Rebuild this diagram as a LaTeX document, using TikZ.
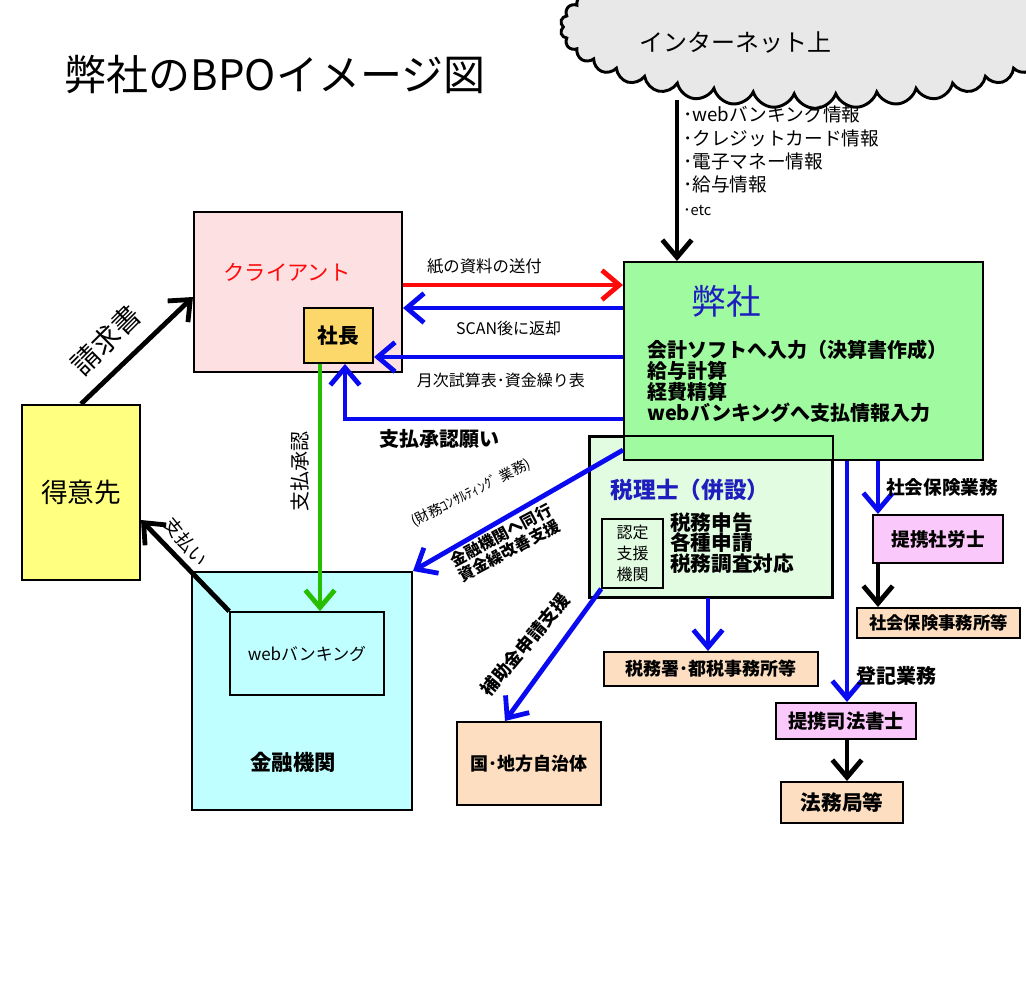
\documentclass[tikz,border=0pt]{standalone}
\usepackage{fontspec}
\setmainfont{Noto Sans CJK JP}
\usepackage{tikz}
\usetikzlibrary{arrows.meta,positioning,shapes.symbols}
\definecolor{clientpink}{RGB}{253,224,226}
\definecolor{bossgold}{RGB}{252,216,106}
\definecolor{firmgreen}{RGB}{160,250,160}
\definecolor{taxgreen}{RGB}{226,252,226}
\definecolor{custyellow}{RGB}{255,255,128}
\definecolor{bankcyan}{RGB}{192,255,255}
\definecolor{officepeach}{RGB}{253,222,192}
\definecolor{partnerpink}{RGB}{250,200,250}
\definecolor{flowblue}{RGB}{10,10,240}
\definecolor{flowred}{RGB}{255,10,10}
\definecolor{flowgreen}{RGB}{40,190,0}
\definecolor{titleblue}{RGB}{30,30,190}
\definecolor{cloudgray}{RGB}{232,232,232}

\tikzset{
  box/.style={draw=black, line width=1.5pt, inner sep=0pt},
  flow/.style={line width=3.6pt, -{Straight Barb[length=13pt,width=22pt]}},
  bluef/.style={flow, draw=flowblue},
  blackf/.style={flow, draw=black},
}

\begin{document}
\begin{tikzpicture}[x=0.75pt,y=-0.75pt]
  \useasboundingbox (0,0) rectangle (1026,985);
  \clip (0,0) rectangle (1026,985);
  \fill[white] (0,0) rectangle (1026,985);

  % title
  \node[font=\fontsize{31.5}{31.5}\selectfont] (title) at (275,75) {弊社のBPOイメージ図};

  % boxes
  \node[box, fill=taxgreen, minimum width=181.5pt, minimum height=120pt] (tax) at (711,517) {};
  \node[box, fill=firmgreen, minimum width=269.25pt, minimum height=148.5pt] (company) at (803.5,361) {};
  \draw[line width=1.5pt] (tax.north west) rectangle (tax.south east);
  \node[font=\fontsize{26}{26}\selectfont, text=titleblue] (firmname) at (726,301) {弊社};
  \node[font=\bfseries\fontsize{15}{15.75}\selectfont, anchor=west, align=left, inner sep=0pt] (firmwork) at (647,381.5)
    {会計ソフトへ入力（決算書作成）\\給与計算\\経費精算\\webバンキングへ支払情報入力};
  \node[font=\bfseries\fontsize{17}{17}\selectfont, text=titleblue] (taxname) at (690,490) {税理士（併設）};
  \node[box, line width=1.2pt, minimum width=45.75pt, minimum height=51.75pt, align=center,
    font=\fontsize{12}{16}\selectfont] (nintei) at (632.5,553.5) {認定\\支援\\機関};
  \node[font=\bfseries\fontsize{15.5}{15.4}\selectfont, anchor=west, align=left, inner sep=0pt] (taxwork) at (670,543)
    {税務申告\\各種申請\\税務調査対応};

  \node[box, fill=clientpink, minimum width=156pt, minimum height=120pt] (client) at (298,292) {};
  \node[font=\fontsize{16}{16}\selectfont, text=flowred] (clientname) at (287,272) {クライアント};
  \node[box, fill=bossgold, minimum width=51.75pt, minimum height=41.25pt,
    font=\bfseries\fontsize{15.5}{15.5}\selectfont] (boss) at (338.5,335.5) {社長};

  \node[box, fill=custyellow, minimum width=88.5pt, minimum height=131.25pt,
    font=\fontsize{20}{20}\selectfont] (cust) at (81,492.5) {得意先};

  \node[box, fill=bankcyan, minimum width=165pt, minimum height=178.5pt] (bank) at (302,691) {};
  \node[box, line width=1.2pt, minimum width=115.5pt, minimum height=62.25pt,
    font=\fontsize{12.7}{12.7}\selectfont] (webbank) at (307,653.5) {webバンキング};
  \node[font=\bfseries\fontsize{16}{16}\selectfont] (bankname) at (293,762) {金融機関};

  \node[box, fill=officepeach, minimum width=160.5pt, minimum height=25.5pt,
    font=\bfseries\fontsize{13.5}{13.5}\selectfont] (taxoffice) at (711,669) {税務署･都税事務所等};
  \node[box, fill=officepeach, minimum width=108pt, minimum height=62.25pt,
    font=\bfseries\fontsize{13.5}{13.5}\selectfont] (govt) at (529,763.5) {国･地方自治体};
  \node[box, fill=partnerpink, minimum width=97.5pt, minimum height=36pt,
    font=\bfseries\fontsize{14}{14}\selectfont] (sharoushi) at (938,539) {提携社労士};
  \node[box, fill=officepeach, minimum width=122.25pt, minimum height=22.5pt,
    font=\bfseries\fontsize{13}{13}\selectfont] (hokenoffice) at (938.5,623) {社会保険事務所等};
  \node[box, fill=partnerpink, minimum width=105pt, minimum height=27pt,
    font=\bfseries\fontsize{14.5}{14.5}\selectfont] (shiho) at (846,721) {提携司法書士};
  \node[box, fill=officepeach, minimum width=91.5pt, minimum height=30.75pt,
    font=\bfseries\fontsize{15.5}{15.5}\selectfont] (houmu) at (842,802.5) {法務局等};

  % internet
  \coordinate (netfoot) at (677,100);
  \draw[blackf] (netfoot) -- (company.north -| netfoot);
  \node[cloud, cloud puffs=38, cloud puff arc=140, cloud ignores aspect, draw, line width=2.2pt,
    fill=cloudgray, minimum width=382pt, minimum height=122pt] (net) at (815,27) {};
  \node[font=\fontsize{18}{18}\selectfont] (nettext) at (735,42) {インターネット上};
  \node[font=\fontsize{14}{17.5}\selectfont, anchor=north west, align=left, inner sep=0pt] (netinfo) at (683,106)
    {･webバンキング情報\\･クレジットカード情報\\･電子マネー情報\\･給与情報\\{\fontsize{11}{11}\selectfont ･etc}};

  % client <-> company
  \draw[flow, draw=flowred] (client.east |- 0,285) -- (company.west |- 0,285)
    node[pos=0.37, above=3pt, font=\fontsize{12.3}{12.3}\selectfont] {紙の資料の送付};
  \draw[bluef] (company.west |- 0,308) -- (client.east |- 0,308)
    node[pos=0.52, below=5pt, font=\fontsize{12}{12}\selectfont] {SCAN後に返却};
  \draw[bluef] (company.west |- 0,357) -- (boss.east |- 0,357)
    node[pos=0.49, below=7pt, font=\fontsize{12}{12}\selectfont] {月次試算表･資金繰り表};
  \draw[bluef] (company.west |- 0,419) -| (boss.south -| 345,0)
    node[pos=0.33, below=3pt, font=\bfseries\fontsize{15}{15}\selectfont] {支払承認願い};

  % approval and payments
  \draw[flow, draw=flowgreen] (boss.south -| 320,0) -- (webbank.north -| 320,0);
  \node[rotate=90, font=\fontsize{15}{15}\selectfont] (approvelbl) at (300,471) {支払承認};
  \draw[blackf] (cust.north) -- (client.west |- 0,297);
  \node[rotate=45, font=\fontsize{21}{21}\selectfont] (invoicelbl) at (106,340) {請求書};
  \draw[blackf] (webbank.north west) -- (cust.east |- 0,520);
  \node[rotate=-51, font=\fontsize{14}{14}\selectfont] (paylbl) at (186,542) {支払い};

  % consulting and subsidies
  \draw[bluef] (company.west |- 0,450) -- (bank.north east);
  \node[rotate=27, font=\fontsize{10.5}{10.5}\selectfont] (consultlbl) at (471,493) {(財務ｺﾝｻﾙﾃｨﾝｸﾞ 業務)};
  \node[rotate=28, font=\bfseries\fontsize{12}{13}\selectfont, align=center] (banklbl) at (505,543)
    {金融機関へ同行\\資金繰改善支援};
  \draw[bluef] (nintei.south west) -- (govt.north -| 505,0);
  \node[rotate=50, font=\bfseries\fontsize{13.5}{13.5}\selectfont] (subsidylbl) at (525,645) {補助金申請支援};
  \draw[bluef] (tax.south -| 708,0) -- (taxoffice.north -| 708,0);

  % partners
  \draw[bluef] (company.south -| 878,0) -- (sharoushi.north -| 878,0);
  \node[font=\bfseries\fontsize{14}{14}\selectfont] (insurelbl) at (942,487) {社会保険業務};
  \draw[blackf] (sharoushi.south -| 878,0) -- (hokenoffice.north -| 878,0);
  \draw[bluef] (company.south -| 847,0) -- (shiho.north -| 847,0);
  \node[font=\bfseries\fontsize{15}{15}\selectfont] (registlbl) at (896,676) {登記業務};
  \draw[blackf] (shiho.south -| 847,0) -- (houmu.north -| 847,0);
\end{tikzpicture}
\end{document}
